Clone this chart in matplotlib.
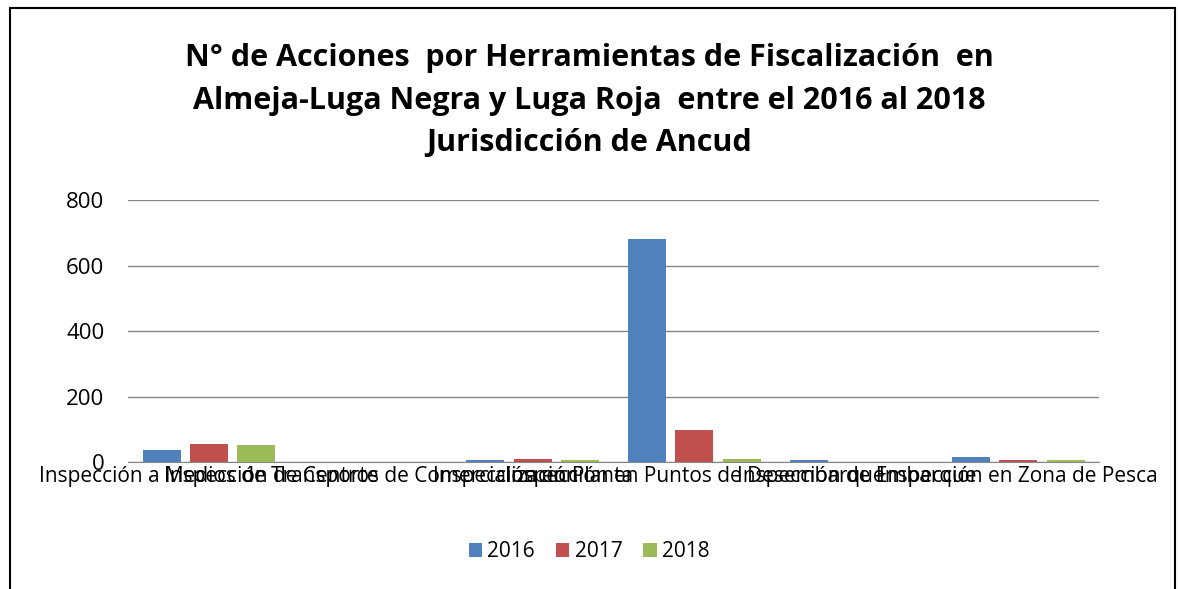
import numpy as np
import matplotlib
matplotlib.use("Agg")
import matplotlib.pyplot as plt
from matplotlib.patches import Rectangle

categorias = ["Inspección a Medios de Transporte",
              "Inspección de Centros de Comercialización",
              "Inspección en Planta",
              "Inspección en Puntos de Desembarque",
              "Inspección de Embarque",
              "Inspección en Zona de Pesca"]
anios = ["2016", "2017", "2018"]
v2016 = [37, 0, 5, 680, 5, 16]
v2017 = [56, 0, 9, 99, 0, 6]
v2018 = [53, 0, 6, 9, 0, 5]
colores = ["#4F81BD", "#C0504D", "#9BBB59"]

plt.rcParams['font.family'] = ['Open Sans', 'DejaVu Sans']

fig = plt.figure(figsize=(11.78, 5.89), dpi=100)
ax = fig.add_axes([0.1087, 0.2156, 0.8243, 0.4448])

x = np.arange(len(categorias))
ancho = 0.235
sep = 0.293
for i, (serie, nombre) in enumerate(zip([v2016, v2017, v2018], anios)):
    ax.bar(x + (i - 1) * sep, serie, width=ancho, color=colores[i], label=nombre, zorder=3)

ax.set_xlim(-0.5, len(categorias) - 0.5)
ax.set_ylim(0, 800)
ax.set_yticks([0, 200, 400, 600, 800])
ax.set_xticks(x)
ax.set_xticklabels(categorias, fontsize=15)
ax.tick_params(axis='y', labelsize=16, length=0, pad=17)
ax.tick_params(axis='x', length=0, pad=3)
ax.grid(axis='y', color='#868686', linewidth=1, zorder=0)
for s in ['top', 'right', 'left']:
    ax.spines[s].set_visible(False)
ax.spines['bottom'].set_color('#868686')

fig.text(0.5, 0.829, "N° de Acciones  por Herramientas de Fiscalización  en\n"
         "Almeja-Luga Negra y Luga Roja  entre el 2016 al 2018\n"
         "Jurisdicción de Ancud", ha='center', va='center', fontsize=22,
         fontweight='bold', linespacing=1.55)

fig.legend(loc='center', bbox_to_anchor=(0.5, 0.063), ncol=3, frameon=False,
           fontsize=15, handlelength=0.65, handleheight=0.65, columnspacing=1.0,
           handletextpad=0.25)

fig.patches.append(Rectangle((10 / 1178, -0.05), 1165 / 1178, 0.05 + 1 - 8 / 589,
                             transform=fig.transFigure, fill=False,
                             edgecolor='black', linewidth=1.5))

fig.savefig("out.png", dpi=100)
